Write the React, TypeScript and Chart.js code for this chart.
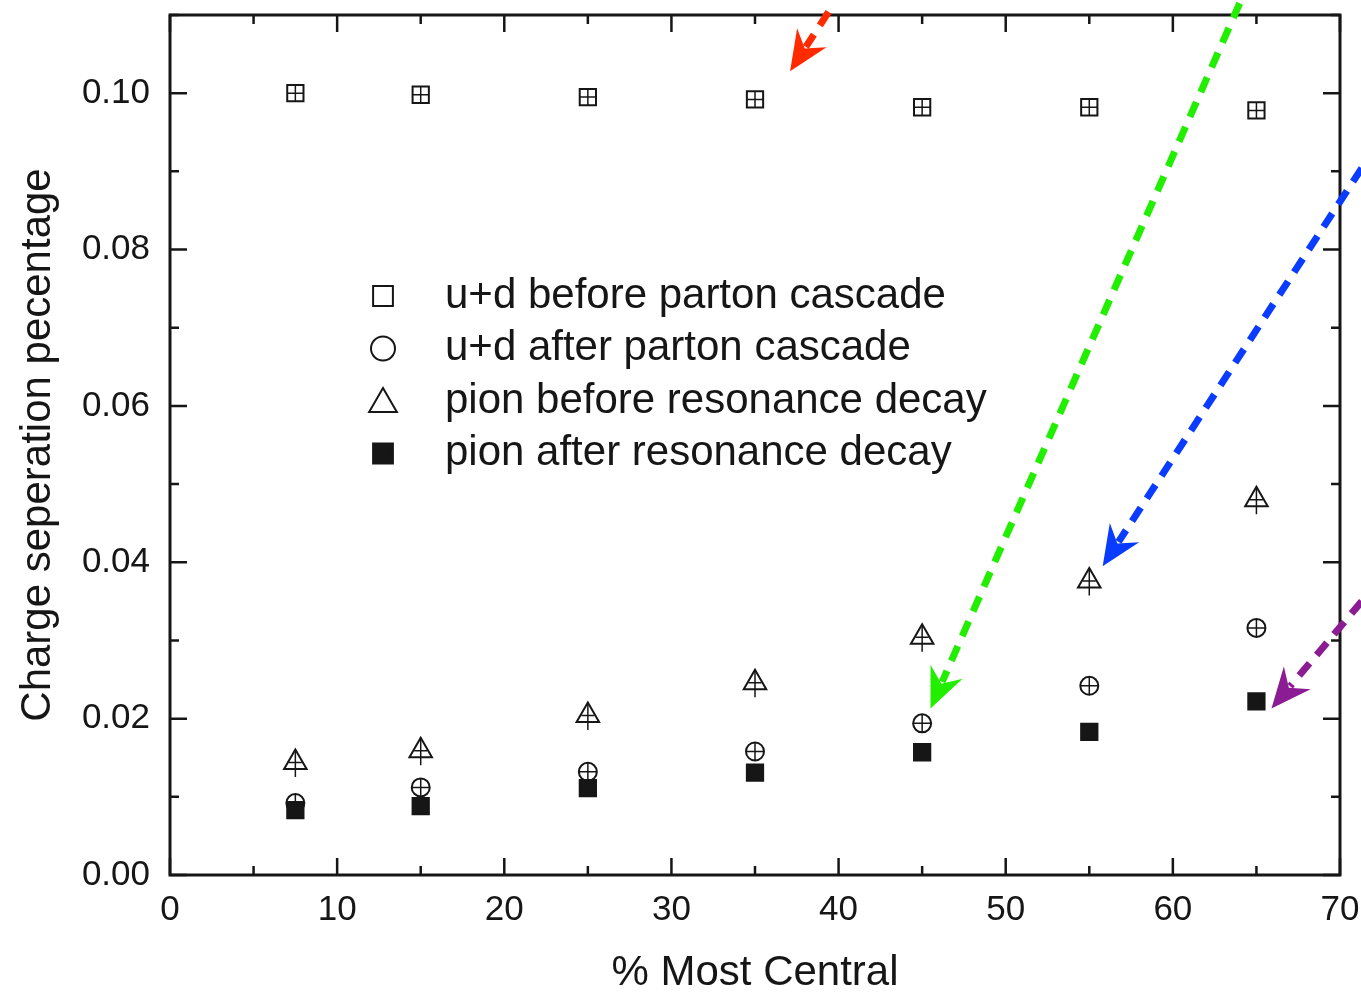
import React, { useEffect, useRef } from 'react';
import { Chart, registerables } from 'chart.js';

Chart.register(...registerables);

// ---- data ----
const centrality = [7.5, 15, 25, 35, 45, 55, 65];
const udBefore = [0.1, 0.0998, 0.0995, 0.0992, 0.0982, 0.0982, 0.0978];
const udAfter = [0.0092, 0.0112, 0.0132, 0.0158, 0.0194, 0.0242, 0.0316];
const pionBefore = [0.0144, 0.0159, 0.0204, 0.0246, 0.0304, 0.0376, 0.048];
const pionAfter = [0.0083, 0.0088, 0.0111, 0.0131, 0.0157, 0.0183, 0.0222];
const seriesLabels = [
  'u+d before parton cascade',
  'u+d after parton cascade',
  'pion before resonance decay',
  'pion after resonance decay',
];
const xTickValues = [0, 10, 20, 30, 40, 50, 60, 70];
const yTickValues = [0, 0.02, 0.04, 0.06, 0.08, 0.1];
const xTitle = '% Most Central';
const yTitle = 'Charge seperation pecentage';
// arrow annotations: [x, y] in data units, from -> tip
const arrowColors = ['#ff2a00', '#22ee00', '#0a3cff', '#8c1c94'];
const arrowFrom = [[39.4, 0.1104], [64.0, 0.1115], [71.3, 0.0904], [71.3, 0.035]];
const arrowTo = [[37.1, 0.1028], [45.5, 0.0213], [55.8, 0.0395], [65.9, 0.0213]];

const FONT = '"Liberation Sans", Arial, "DejaVu Sans", sans-serif';
const INK = '#161616';
const PLOT_TOP = 12;

function drawMarker(ctx: CanvasRenderingContext2D, style: string, x: number, y: number, r: number, filled: boolean) {
  ctx.beginPath();
  if (style === 'rect') {
    const s = r * Math.SQRT1_2;
    ctx.rect(x - s, y - s, 2 * s, 2 * s);
  } else if (style === 'circle') {
    ctx.arc(x, y, r, 0, Math.PI * 2);
  } else {
    const a = (2 * Math.PI) / 3;
    ctx.moveTo(x, y - r);
    ctx.lineTo(x + Math.sin(a) * r, y - Math.cos(a) * r);
    ctx.lineTo(x + Math.sin(2 * a) * r, y - Math.cos(2 * a) * r);
    ctx.closePath();
  }
  ctx.fillStyle = filled ? INK : '#fff';
  ctx.fill();
  ctx.stroke();
}

const framePlugin = {
  id: 'frameTicks',
  afterDraw(chart: any) {
    const { ctx, chartArea: a, scales } = chart;
    const xs = scales.x;
    const ys = scales.y;
    ctx.save();
    ctx.strokeStyle = INK;
    ctx.lineWidth = 2.5;
    // ticks inward on all sides
    for (let v = 0; v <= 70; v += 5) {
      const px = xs.getPixelForValue(v);
      const len = v % 10 === 0 ? 17 : 9;
      ctx.beginPath();
      ctx.moveTo(px, a.bottom);
      ctx.lineTo(px, a.bottom - len);
      ctx.moveTo(px, a.top);
      ctx.lineTo(px, a.top + len);
      ctx.stroke();
    }
    for (let i = 0; i <= 11; i++) {
      const v = i * 0.01;
      const py = ys.getPixelForValue(v);
      const len = i % 2 === 0 ? 17 : 9;
      ctx.beginPath();
      ctx.moveTo(a.left, py);
      ctx.lineTo(a.left + len, py);
      ctx.moveTo(a.right, py);
      ctx.lineTo(a.right - len, py);
      ctx.stroke();
    }
    ctx.lineWidth = 3;
    ctx.strokeRect(a.left, a.top, a.right - a.left, a.bottom - a.top);

    // legend
    const lx = a.left + 213;
    const tx = a.left + 275;
    const ly0 = a.top + 281;
    const dy = 52.5;
    const styles = ['rect', 'circle', 'triangle', 'rect'];
    const radii = [14, 12, 16, 14];
    ctx.lineWidth = 2;
    ctx.font = `42px ${FONT}`;
    ctx.textBaseline = 'middle';
    ctx.textAlign = 'left';
    for (let i = 0; i < 4; i++) {
      const y = ly0 + i * dy;
      ctx.strokeStyle = INK;
      drawMarker(ctx, styles[i], lx, i === 2 ? y + 3 : y, radii[i], i === 3);
      ctx.fillStyle = INK;
      ctx.fillText(chart.data.datasets[i].label, tx, y);
    }

    // arrows
    for (let i = 0; i < arrowColors.length; i++) {
      const x0 = xs.getPixelForValue(arrowFrom[i][0]);
      const y0 = ys.getPixelForValue(arrowFrom[i][1]);
      const x1 = xs.getPixelForValue(arrowTo[i][0]);
      const y1 = ys.getPixelForValue(arrowTo[i][1]);
      const dx = x1 - x0;
      const dyy = y1 - y0;
      const L = Math.hypot(dx, dyy);
      const ux = dx / L;
      const uy = dyy / L;
      const head = 40;
      const half = 17.5;
      const notch = 27;
      ctx.strokeStyle = arrowColors[i];
      ctx.fillStyle = arrowColors[i];
      ctx.lineWidth = 7;
      ctx.lineCap = 'butt';
      ctx.setLineDash([16, 11]);
      ctx.beginPath();
      ctx.moveTo(x0, y0);
      ctx.lineTo(x1 - ux * (notch + 2), y1 - uy * (notch + 2));
      ctx.stroke();
      ctx.setLineDash([]);
      const bx = x1 - ux * head;
      const by = y1 - uy * head;
      ctx.beginPath();
      ctx.moveTo(x1, y1);
      ctx.lineTo(bx - uy * half, by + ux * half);
      ctx.lineTo(x1 - ux * notch, y1 - uy * notch);
      ctx.lineTo(bx + uy * half, by - ux * half);
      ctx.closePath();
      ctx.fill();
    }
    ctx.restore();
  },
  afterDatasetsDraw(chart: any) {
    const { ctx } = chart;
    ctx.save();
    ctx.strokeStyle = INK;
    ctx.lineWidth = 1.5;
    [0, 1, 2].forEach((di) => {
      const meta = chart.getDatasetMeta(di);
      const r = chart.data.datasets[di].pointRadius;
      meta.data.forEach((p: any) => {
        const { x, y } = p;
        ctx.beginPath();
        if (di === 0) {
          const s = r * Math.SQRT1_2;
          ctx.moveTo(x - s, y);
          ctx.lineTo(x + s, y);
          ctx.moveTo(x, y - s);
          ctx.lineTo(x, y + s);
        } else if (di === 1) {
          ctx.moveTo(x - r, y);
          ctx.lineTo(x + r, y);
          ctx.moveTo(x, y - r);
          ctx.lineTo(x, y + r);
        } else {
          ctx.moveTo(x - r * 0.5, y);
          ctx.lineTo(x + r * 0.5, y);
          ctx.moveTo(x, y - r);
          ctx.lineTo(x, y + r * 0.5 + 8);
        }
        ctx.stroke();
      });
    });
    ctx.restore();
  },
};

export default function App() {
  const ref = useRef<HTMLCanvasElement | null>(null);
  useEffect(() => {
    document.body.style.margin = '0';
    const toPts = (ys: number[]) => centrality.map((x, i) => ({ x, y: ys[i] }));
    const mk = (i: number, ys: number[], style: string, r: number, filled: boolean) => ({
      label: seriesLabels[i],
      data: toPts(ys),
      showLine: false,
      pointStyle: style,
      pointRadius: r,
      pointHoverRadius: r,
      pointBorderWidth: 2,
      pointBorderColor: INK,
      pointBackgroundColor: filled ? INK : 'rgba(255,255,255,0)',
    });
    const chart = new Chart(ref.current as HTMLCanvasElement, {
      type: 'scatter',
      data: {
        datasets: [
          mk(0, udBefore, 'rect', 11.5, false),
          mk(1, udAfter, 'circle', 9, false),
          mk(2, pionBefore, 'triangle', 13, false),
          mk(3, pionAfter, 'rect', 11.5, true),
        ],
      },
      options: {
        animation: false,
        responsive: true,
        maintainAspectRatio: false,
        layout: { padding: { top: PLOT_TOP, right: 21, left: 0, bottom: 0 } },
        plugins: { legend: { display: false }, tooltip: { enabled: false } },
        scales: {
          x: {
            type: 'linear',
            min: 0,
            max: 70,
            grid: { display: false, drawTicks: false },
            border: { display: false },
            afterBuildTicks: (s: any) => {
              s.ticks = xTickValues.map((v) => ({ value: v }));
            },
            afterFit: (s: any) => {
              s.height = 119;
              s.paddingLeft = 0;
              s.paddingRight = 0;
              s.paddingTop = 0;
              s.paddingBottom = 0;
            },
            ticks: {
              padding: 14,
              maxRotation: 0,
              autoSkip: false,
              color: INK,
              font: { family: FONT, size: 35 },
              callback: (v: any) => String(v),
            },
            title: {
              display: true,
              text: xTitle,
              color: INK,
              font: { family: FONT, size: 42, lineHeight: 1 },
              padding: { top: 0, bottom: 0 },
            },
          },
          y: {
            type: 'linear',
            min: 0,
            max: 0.11,
            grid: { display: false, drawTicks: false },
            border: { display: false },
            afterBuildTicks: (s: any) => {
              s.ticks = yTickValues.map((v) => ({ value: v }));
            },
            afterFit: (s: any) => {
              s.width = 170;
              s.paddingTop = 0;
              s.paddingBottom = 0;
              s.paddingLeft = 0;
              s.paddingRight = 0;
            },
            ticks: {
              padding: 20,
              autoSkip: false,
              color: INK,
              font: { family: FONT, size: 35 },
              callback: (v: any) => Number(v).toFixed(2),
            },
            title: {
              display: true,
              text: yTitle,
              color: INK,
              font: { family: FONT, size: 42, lineHeight: 1.2 },
              padding: { top: 13, bottom: 0 },
            },
          },
        },
      },
      plugins: [framePlugin],
    } as any);
    return () => chart.destroy();
  }, []);
  return (
    <div style={{ position: 'relative', width: '1361px', height: '994px', background: '#fff' }}>
      <canvas ref={ref} />
    </div>
  );
}
